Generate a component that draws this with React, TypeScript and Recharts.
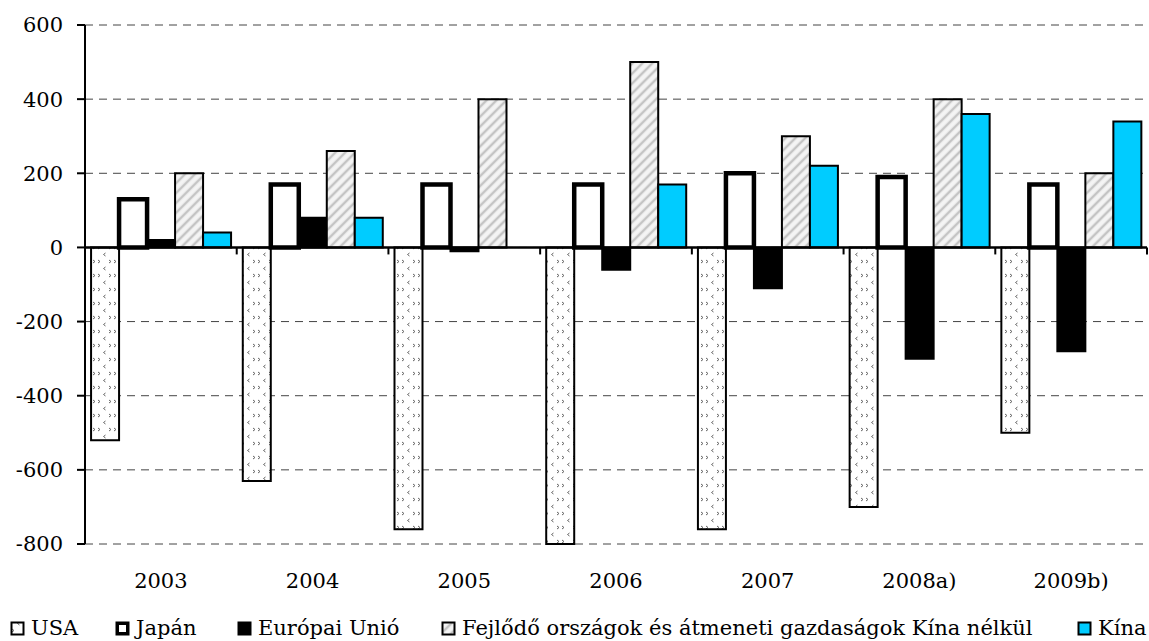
import React from 'react';
import { BarChart, Bar, XAxis, YAxis, CartesianGrid, ReferenceLine } from 'recharts';

const categories = ['2003', '2004', '2005', '2006', '2007', '2008a)', '2009b)'];
const usa = [-520, -630, -760, -800, -760, -700, -500];
const japan = [130, 170, 170, 170, 200, 190, 170];
const eu = [20, 80, -10, -60, -110, -300, -280];
const developing = [200, 260, 400, 500, 300, 400, 200];
const china = [40, 80, 0, 170, 220, 360, 340];
const yTicks = [600, 400, 200, 0, -200, -400, -600, -800];

const seriesNames = {
  usa: 'USA',
  japan: 'Japán',
  eu: 'Európai Unió',
  developing: 'Fejlődő országok és átmeneti gazdaságok Kína nélkül',
  china: 'Kína',
};

const data = categories.map((c, i) => ({
  name: c,
  usa: usa[i],
  japan: japan[i],
  eu: eu[i],
  developing: developing[i],
  china: china[i],
}));

const FONT = '"DejaVu Serif", serif';
const CYAN = '#00CCFF';

const PatternDefs = ({ prefix }: { prefix: string }) => (
  <defs>
    <pattern id={`${prefix}usa`} width="16" height="14" patternUnits="userSpaceOnUse">
      <rect width="16" height="14" fill="#fff" />
      <polyline points="9.5,1 7.5,2.5 9.5,4" fill="none" stroke="#666" strokeWidth="1" />
      <polyline points="2,8 4,9.5 2,11" fill="none" stroke="#666" strokeWidth="1" />
      <polyline points="13,8 15,9.5 13,11" fill="none" stroke="#666" strokeWidth="1" />
    </pattern>
    <pattern id={`${prefix}stripes`} width="7" height="7" patternUnits="userSpaceOnUse" patternTransform="rotate(45)">
      <rect width="7" height="7" fill="#f4f4f4" />
      <line x1="2" y1="0" x2="2" y2="7" stroke="#c4c4c4" strokeWidth="2.5" />
    </pattern>
  </defs>
);

const ZeroLine = (props: any) => {
  const { x1, x2, y1 } = props;
  const n = categories.length;
  const step = (x2 - x1) / n;
  const ticks = [];
  for (let i = 0; i <= n; i++) {
    const x = x1 + step * i;
    ticks.push(<line key={i} x1={x} x2={x} y1={y1} y2={y1 + 7} stroke="#000" strokeWidth={2} />);
  }
  return (
    <g>
      <line x1={x1} x2={x2} y1={y1} y2={y1} stroke="#000" strokeWidth={2.5} />
      {ticks}
    </g>
  );
};

const legendItems = [
  { key: 'usa', left: 10, fill: 'url(#lg-usa)', sw: 2 },
  { key: 'japan', left: 115, fill: '#fff', sw: 3.5 },
  { key: 'eu', left: 237, fill: '#000', sw: 2 },
  { key: 'developing', left: 441, fill: 'url(#lg-stripes)', sw: 2 },
  { key: 'china', left: 1077, fill: CYAN, sw: 2 },
];

export default function App() {
  return (
    <div style={{ position: 'absolute', left: 0, top: 0, width: 1149, height: 641, background: '#fff', fontFamily: FONT }}>
      <BarChart
        width={1149}
        height={641}
        data={data}
        margin={{ top: 25, right: 2, left: 0, bottom: 0 }}
        barCategoryGap="4%"
        barGap={0}
      >
        <PatternDefs prefix="" />
        <CartesianGrid vertical={false} stroke="#444" strokeDasharray="8 6" strokeWidth={1} />
        <XAxis
          dataKey="name"
          axisLine={false}
          tickLine={false}
          height={97}
          tickMargin={23}
          interval={0}
          tick={{ fill: '#000', fontSize: 21, fontFamily: FONT }}
        />
        <YAxis
          width={85}
          domain={[-800, 600]}
          ticks={yTicks}
          interval={0}
          tickSize={8}
          tickMargin={14}
          axisLine={{ stroke: '#000', strokeWidth: 2 }}
          tickLine={{ stroke: '#000', strokeWidth: 2 }}
          tick={{ fill: '#000', fontSize: 21, fontFamily: FONT }}
        />
        <Bar dataKey="usa" name={seriesNames.usa} fill="url(#usa)" stroke="#000" strokeWidth={2} isAnimationActive={false} />
        <Bar dataKey="japan" name={seriesNames.japan} fill="#fff" stroke="#000" strokeWidth={4.5} isAnimationActive={false} />
        <Bar dataKey="eu" name={seriesNames.eu} fill="#000" stroke="#000" strokeWidth={2} isAnimationActive={false} />
        <Bar dataKey="developing" name={seriesNames.developing} fill="url(#stripes)" stroke="#000" strokeWidth={2} isAnimationActive={false} />
        <Bar dataKey="china" name={seriesNames.china} fill={CYAN} stroke="#000" strokeWidth={2} isAnimationActive={false} />
        <ReferenceLine y={0} shape={ZeroLine} />
      </BarChart>
      <svg width={0} height={0} style={{ position: 'absolute' }}>
        <PatternDefs prefix="lg-" />
      </svg>
      {legendItems.map((it) => (
        <div
          key={it.key}
          style={{ position: 'absolute', left: it.left, top: 616, display: 'flex', alignItems: 'center', fontSize: 21, color: '#000', whiteSpace: 'nowrap' }}
        >
          <svg width={15} height={15} style={{ marginRight: 6 }}>
            <rect x={1 + it.sw / 2 - 0.5} y={1 + it.sw / 2 - 0.5} width={13 - it.sw + 1} height={13 - it.sw + 1} fill={it.fill} stroke="#000" strokeWidth={it.sw} />
          </svg>
          <span>{(seriesNames as any)[it.key]}</span>
        </div>
      ))}
    </div>
  );
}
